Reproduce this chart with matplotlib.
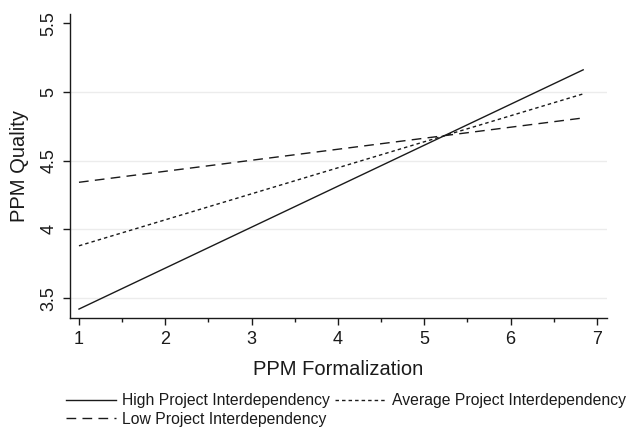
import matplotlib
matplotlib.use("Agg")
import matplotlib.pyplot as plt

plt.rcParams['font.family'] = ['Liberation Sans', 'DejaVu Sans']

x_vals = [1.0, 6.84]
high = [3.42, 5.16]
average = [3.88, 4.985]
low = [4.342, 4.81]
x_ticks = [1, 2, 3, 4, 5, 6, 7]
y_ticks = [3.5, 4, 4.5, 5, 5.5]
grid_y = [3.5, 4, 4.5, 5]

fig = plt.figure(figsize=(6.3, 4.28), dpi=100)
ax = fig.add_axes([70/630, 1-318/428, (607-70)/630, (318-14)/428])

col = '#1a1a1a'
for gy in grid_y:
    ax.axhline(gy, color='#ececec', lw=1.0, zorder=0)

l1, = ax.plot(x_vals, high, color=col, lw=1.0, ls='-')
l2, = ax.plot(x_vals, average, color=col, lw=1.0, ls=(0, (2.5, 2.2)))
l3, = ax.plot(x_vals, low, color=col, lw=1.0, ls=(0, (7, 4.5)))

ax.set_xlim(0.896, 7.116)
ax.set_ylim(3.355, 5.566)
ax.set_xticks(x_ticks)
ax.set_xticks([1.5, 2.5, 3.5, 4.5, 5.5, 6.5], minor=True)
ax.set_yticks(y_ticks)
ax.set_yticklabels(['3.5', '4', '4.5', '5', '5.5'], rotation=90, va='center')
ax.tick_params(axis='both', which='major', length=5, width=1, labelsize=13, color=col, labelcolor=col)
ax.tick_params(axis='x', which='minor', length=3, width=1, color=col)
ax.tick_params(axis='x', pad=4)
ax.tick_params(axis='y', pad=4)

for s in ['top', 'right']:
    ax.spines[s].set_visible(False)
for s in ['left', 'bottom']:
    ax.spines[s].set_color(col)
    ax.spines[s].set_linewidth(1.0)

ax.set_xlabel('PPM Formalization', fontsize=14.5, color=col, labelpad=9)
ax.set_ylabel('PPM Quality', fontsize=14.5, color=col, labelpad=8)

handles = [l1, l3, l2]
labels = ['High Project Interdependency', 'Low Project Interdependency',
          'Average Project Interdependency']
leg = fig.legend(handles, labels, loc='upper left', bbox_to_anchor=(66/630, 1-393/428),
                 ncol=2, frameon=False, fontsize=11.3, handlelength=3.2,
                 handletextpad=0.4, columnspacing=0.3, labelspacing=0.25,
                 borderaxespad=0, borderpad=0)
for t in leg.get_texts():
    t.set_color(col)

fig.savefig('out.png', dpi=100)
